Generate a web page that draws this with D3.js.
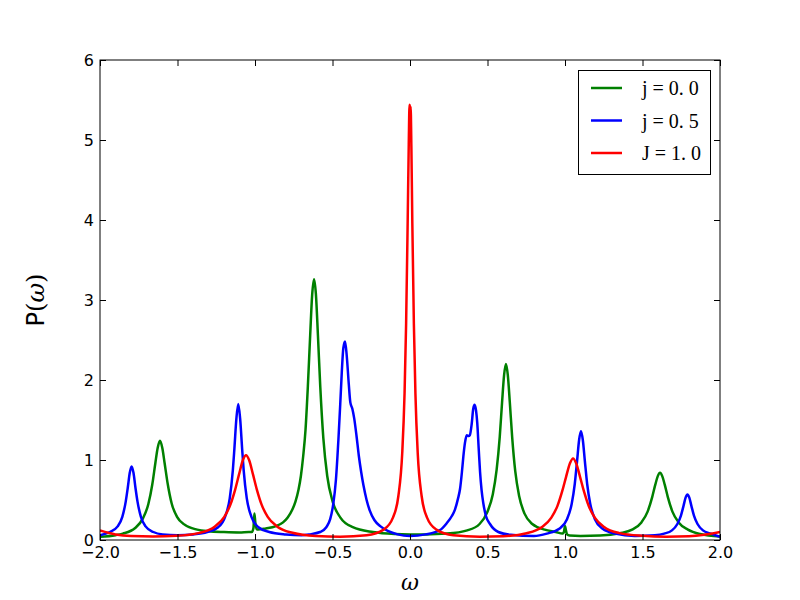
<!DOCTYPE html>
<html>
<head>
<meta charset="utf-8">
<script src="https://cdn.jsdelivr.net/npm/d3@7/dist/d3.min.js"></script>
<style>
  body { margin: 0; background: #fff; }
</style>
</head>
<body>
<svg id="canvas" width="800" height="600"></svg>
<script>
// values
let greenX = [-2.0, -1.9, -1.853, -1.773, -1.723, -1.688, -1.663, -1.643, -1.628, -1.613, -1.598, -1.583, -1.563, -1.538, -1.503, -1.453, -1.373, -1.3, -1.2, -1.1, -1.04, -1.02, -1.01, -1.004, -0.998, -0.99, -0.98, -0.93, -0.869, -0.819, -0.789, -0.759, -0.739, -0.719, -0.704, -0.689, -0.674, -0.659, -0.644, -0.631, -0.619, -0.607, -0.594, -0.579, -0.559, -0.534, -0.499, -0.449, -0.369, -0.239, -0.1, 0.0, 0.1, 0.239, 0.369, 0.449, 0.499, 0.534, 0.559, 0.579, 0.594, 0.607, 0.619, 0.631, 0.644, 0.659, 0.679, 0.704, 0.739, 0.789, 0.869, 0.94, 0.985, 0.993, 1.0, 1.006, 1.013, 1.03, 1.1, 1.226, 1.353, 1.433, 1.493, 1.533, 1.563, 1.583, 1.598, 1.613, 1.628, 1.643, 1.663, 1.693, 1.733, 1.793, 1.873, 2.0];
let greenY = [0.04, 0.06, 0.08, 0.15, 0.27, 0.45, 0.69, 0.96, 1.15, 1.24, 1.15, 0.96, 0.70, 0.46, 0.29, 0.19, 0.13, 0.11, 0.10, 0.095, 0.10, 0.10, 0.15, 0.33, 0.22, 0.14, 0.13, 0.145, 0.17, 0.22, 0.28, 0.38, 0.48, 0.63, 0.80, 1.05, 1.38, 1.92, 2.56, 3.07, 3.26, 3.07, 2.56, 1.92, 1.27, 0.80, 0.48, 0.28, 0.16, 0.10, 0.075, 0.07, 0.07, 0.08, 0.12, 0.20, 0.35, 0.57, 0.88, 1.29, 1.72, 2.06, 2.20, 2.06, 1.72, 1.29, 0.86, 0.55, 0.33, 0.20, 0.13, 0.10, 0.08, 0.10, 0.175, 0.12, 0.07, 0.055, 0.05, 0.055, 0.085, 0.13, 0.22, 0.355, 0.54, 0.695, 0.795, 0.84, 0.795, 0.695, 0.54, 0.355, 0.22, 0.13, 0.075, 0.045];

let blueX = [-2.0, -1.936, -1.886, -1.856, -1.834, -1.821, -1.808, -1.796, -1.784, -1.771, -1.758, -1.736, -1.706, -1.656, -1.596, -1.5, -1.4, -1.308, -1.238, -1.193, -1.163, -1.143, -1.133, -1.12, -1.108, -1.096, -1.083, -1.073, -1.053, -1.023, -0.978, -0.908, -0.8, -0.7, -0.65, -0.58, -0.54, -0.515, -0.495, -0.478, -0.462, -0.45, -0.44, -0.43, -0.419, -0.408, -0.395, -0.385, -0.372, -0.36, -0.345, -0.33, -0.315, -0.3, -0.28, -0.26, -0.23, -0.19, -0.14, -0.08, 0.0, 0.1, 0.194, 0.237, 0.27, 0.29, 0.31, 0.323, 0.335, 0.344, 0.355, 0.366, 0.378, 0.386, 0.398, 0.408, 0.417, 0.426, 0.434, 0.443, 0.452, 0.462, 0.473, 0.49, 0.516, 0.57, 0.65, 0.8, 0.883, 0.963, 1.013, 1.043, 1.063, 1.078, 1.091, 1.103, 1.115, 1.128, 1.143, 1.163, 1.193, 1.243, 1.323, 1.45, 1.58, 1.64, 1.69, 1.725, 1.748, 1.765, 1.778, 1.79, 1.802, 1.815, 1.832, 1.855, 1.89, 1.94, 2.0];
let blueY = [0.06, 0.10, 0.17, 0.29, 0.48, 0.65, 0.84, 0.92, 0.84, 0.65, 0.48, 0.29, 0.17, 0.10, 0.07, 0.06, 0.07, 0.10, 0.16, 0.29, 0.52, 0.87, 1.14, 1.52, 1.70, 1.52, 1.14, 0.87, 0.52, 0.29, 0.16, 0.10, 0.07, 0.06, 0.07, 0.10, 0.16, 0.26, 0.45, 0.75, 1.25, 1.70, 2.10, 2.40, 2.48, 2.30, 1.95, 1.72, 1.64, 1.52, 1.30, 1.05, 0.85, 0.68, 0.50, 0.37, 0.25, 0.17, 0.11, 0.07, 0.05, 0.07, 0.125, 0.21, 0.30, 0.38, 0.52, 0.64, 0.85, 1.04, 1.22, 1.31, 1.30, 1.31, 1.45, 1.64, 1.69, 1.62, 1.46, 1.15, 0.85, 0.62, 0.46, 0.30, 0.20, 0.10, 0.065, 0.05, 0.08, 0.14, 0.26, 0.45, 0.70, 0.99, 1.25, 1.36, 1.25, 0.99, 0.70, 0.45, 0.26, 0.14, 0.08, 0.05, 0.06, 0.08, 0.12, 0.20, 0.305, 0.43, 0.53, 0.57, 0.53, 0.43, 0.305, 0.20, 0.12, 0.08, 0.04];

let redX = [-2.0, -1.9, -1.8, -1.658, -1.508, -1.358, -1.258, -1.198, -1.158, -1.128, -1.103, -1.078, -1.058, -1.038, -1.013, -0.988, -0.958, -0.918, -0.858, -0.758, -0.608, -0.45, -0.28, -0.17, -0.11, -0.075, -0.05, -0.035, -0.025, -0.015, -0.008, -0.003, 0.001, 0.004, 0.009, 0.015, 0.025, 0.035, 0.05, 0.075, 0.11, 0.17, 0.28, 0.45, 0.602, 0.752, 0.852, 0.912, 0.952, 0.982, 1.007, 1.032, 1.052, 1.072, 1.097, 1.122, 1.152, 1.192, 1.252, 1.352, 1.502, 1.652, 1.8, 1.9, 2.0];
let redY = [0.12, 0.07, 0.05, 0.045, 0.052, 0.089, 0.17, 0.29, 0.445, 0.63, 0.82, 1.0, 1.06, 1.0, 0.82, 0.63, 0.445, 0.29, 0.17, 0.09, 0.05, 0.042, 0.06, 0.13, 0.28, 0.55, 1.09, 1.84, 2.71, 3.98, 4.95, 5.44, 5.39, 5.42, 4.90, 3.96, 2.70, 1.83, 1.08, 0.55, 0.28, 0.13, 0.06, 0.042, 0.048, 0.085, 0.163, 0.28, 0.43, 0.61, 0.79, 0.96, 1.02, 0.96, 0.79, 0.61, 0.43, 0.28, 0.163, 0.086, 0.052, 0.041, 0.046, 0.065, 0.10];

let xTicks = [-2.0, -1.5, -1.0, -0.5, 0.0, 0.5, 1.0, 1.5, 2.0];
let yTicks = [0, 1, 2, 3, 4, 5, 6];
let seriesNames = ['j = 0. 0', 'j = 0. 5', 'J = 1. 0'];
let seriesColors = ['#008000', '#0000ff', '#ff0000'];

let canvas = d3.select('#canvas');

let plotLeft = 100, plotRight = 720, plotTop = 60, plotBottom = 540;

let xScale = d3.scaleLinear().domain([-2, 2]).range([plotLeft, plotRight]);
let yScale = d3.scaleLinear().domain([0, 6]).range([plotBottom, plotTop]);

canvas.append('rect')
    .attr('width', 800)
    .attr('height', 600)
    .attr('fill', '#fff');

canvas.append('clipPath')
    .attr('id', 'plot-clip')
    .append('rect')
    .attr('x', plotLeft)
    .attr('y', plotTop)
    .attr('width', plotRight - plotLeft)
    .attr('height', plotBottom - plotTop);

let series = [
    greenX.map((x, i) => [x, greenY[i]]),
    blueX.map((x, i) => [x, blueY[i]]),
    redX.map((x, i) => [x, redY[i]])
];

let line = d3.line()
    .x((d) => xScale(d[0]))
    .y((d) => yScale(d[1]))
    .curve(d3.curveMonotoneX);

canvas.append('g')
    .attr('clip-path', 'url(#plot-clip)')
    .selectAll('path')
    .data(series)
    .enter()
    .append('path')
    .attr('d', line)
    .attr('fill', 'none')
    .attr('stroke', (d, i) => seriesColors[i])
    .attr('stroke-width', 2.5)
    .attr('stroke-linejoin', 'round');

// axes, ticks pointing inward on all four sides
let styleAxis = (g) => {
    g.select('.domain').remove();
    g.selectAll('.tick line').attr('stroke', '#000').attr('stroke-width', 1);
    g.selectAll('text')
        .attr('font-family', 'DejaVu Sans, sans-serif')
        .attr('font-size', 16)
        .attr('fill', '#000');
};

canvas.append('g')
    .attr('transform', `translate(0,${plotBottom})`)
    .call(d3.axisBottom(xScale).tickValues(xTicks).tickFormat(d3.format('.1f'))
        .tickSizeInner(-6).tickSizeOuter(0).tickPadding(7))
    .call(styleAxis);

canvas.append('g')
    .attr('transform', `translate(0,${plotTop})`)
    .call(d3.axisTop(xScale).tickValues(xTicks).tickFormat('')
        .tickSizeInner(-6).tickSizeOuter(0))
    .call(styleAxis);

canvas.append('g')
    .attr('transform', `translate(${plotLeft},0)`)
    .call(d3.axisLeft(yScale).tickValues(yTicks).tickFormat(d3.format('d'))
        .tickSizeInner(-6).tickSizeOuter(0).tickPadding(6))
    .call(styleAxis);

canvas.append('g')
    .attr('transform', `translate(${plotRight},0)`)
    .call(d3.axisRight(yScale).tickValues(yTicks).tickFormat('')
        .tickSizeInner(-6).tickSizeOuter(0))
    .call(styleAxis);

canvas.append('rect')
    .attr('x', plotLeft)
    .attr('y', plotTop)
    .attr('width', plotRight - plotLeft)
    .attr('height', plotBottom - plotTop)
    .attr('fill', 'none')
    .attr('stroke', '#000')
    .attr('stroke-width', 1);

// axis labels
canvas.append('text')
    .attr('x', (plotLeft + plotRight) / 2)
    .attr('y', 590)
    .attr('text-anchor', 'middle')
    .attr('font-family', 'DejaVu Serif, serif')
    .attr('font-style', 'italic')
    .attr('font-size', 22)
    .text('ω');

let ylab = canvas.append('text')
    .attr('transform', `translate(44,${(plotTop + plotBottom) / 2}) rotate(-90)`)
    .attr('text-anchor', 'middle')
    .attr('font-size', 24);
ylab.append('tspan').attr('font-family', 'DejaVu Sans, sans-serif').text('P');
ylab.append('tspan').attr('font-family', 'DejaVu Serif, serif').text('(');
ylab.append('tspan').attr('font-family', 'DejaVu Serif, serif').attr('font-style', 'italic').text('ω');
ylab.append('tspan').attr('font-family', 'DejaVu Serif, serif').text(')');

// legend
let legend = canvas.append('g');
legend.append('rect')
    .attr('x', 578.5)
    .attr('y', 70.5)
    .attr('width', 132)
    .attr('height', 104)
    .attr('fill', '#fff')
    .attr('stroke', '#000')
    .attr('stroke-width', 1);

let legendRows = legend.selectAll('g.row')
    .data(seriesNames)
    .enter()
    .append('g')
    .attr('class', 'row')
    .attr('transform', (d, i) => `translate(0,${88 + i * 32.5})`);

legendRows.append('line')
    .attr('x1', 591)
    .attr('x2', 622)
    .attr('stroke', (d, i) => seriesColors[i])
    .attr('stroke-width', 2.5);

legendRows.append('text')
    .attr('x', 642)
    .attr('y', 7)
    .attr('font-family', 'Liberation Serif, serif')
    .attr('font-size', 20)
    .attr('fill', '#000')
    .text((d) => d);
</script>
</body>
</html>
